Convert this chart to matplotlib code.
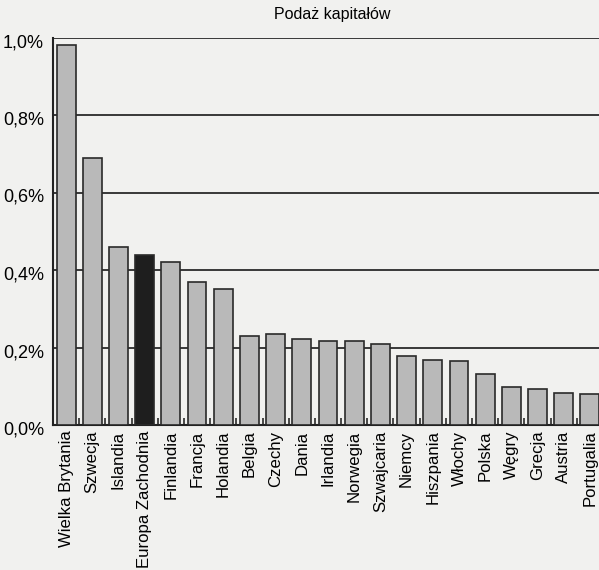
import matplotlib
matplotlib.use("Agg")
import matplotlib.pyplot as plt
import matplotlib.transforms as mtransforms
from matplotlib.ticker import FixedLocator

plt.rcParams['font.family'] = ['Liberation Sans', 'DejaVu Sans']

categories = ["Wielka Brytania", "Szwecja", "Islandia", "Europa Zachodnia", "Finlandia",
              "Francja", "Holandia", "Belgia", "Czechy", "Dania", "Irlandia", "Norwegia",
              "Szwajcaria", "Niemcy", "Hiszpania", "Włochy", "Polska", "Węgry", "Grecja",
              "Austria", "Portugalia"]
values = [0.98, 0.69, 0.46, 0.44, 0.42, 0.37, 0.35, 0.23, 0.235, 0.222, 0.218, 0.217,
          0.208, 0.177, 0.167, 0.165, 0.131, 0.097, 0.093, 0.083, 0.080]
highlight = "Europa Zachodnia"
yticks = [0.0, 0.2, 0.4, 0.6, 0.8, 1.0]
ytick_labels = ["0,0%", "0,2%", "0,4%", "0,6%", "0,8%", "1,0%"]
title = "Podaż kapitałów"

bg = "#f1f1ef"
fig = plt.figure(figsize=(5.99, 5.70), dpi=100, facecolor=bg)
ax = fig.add_axes([53/599, 1-425/570, 550/599, (425-37.5)/570])
ax.set_facecolor(bg)

x = list(range(len(categories)))
colors = ["#1e1e1e" if c == highlight else "#b9b9b9" for c in categories]
ax.bar(x, values, width=0.72, color=colors, edgecolor="#2a2a2a", linewidth=1.2, zorder=3)

ax.set_ylim(0, 1.0)
ax.set_xlim(-0.5, len(categories) - 0.5)
ax.set_yticks(yticks)
ax.set_yticklabels([])
ax.tick_params(axis="y", length=0)
ytrans = mtransforms.blended_transform_factory(ax.transAxes, ax.transData)
shift = mtransforms.ScaledTranslation(-0.09, -0.05, fig.dpi_scale_trans)
for yv, lab in zip(yticks, ytick_labels):
    ax.text(0, yv, lab, transform=ytrans + shift, ha="right", va="center", fontsize=13)
for yv in yticks[1:]:
    ax.axhline(yv, color="#2a2a2a", linewidth=1.3, zorder=1)

ax.set_xticks(x)
ax.set_xticklabels(categories, rotation=90, fontsize=12.1, va="top", ha="center")
ax.tick_params(axis="x", which="major", length=0, pad=4)
ax.xaxis.set_minor_locator(FixedLocator([i + 0.5 for i in x[:-1]]))
ax.tick_params(axis="x", which="minor", direction="in", length=5, width=1.2, color="#2a2a2a")

for s in ["top", "right"]:
    ax.spines[s].set_visible(False)
ax.spines["left"].set_linewidth(1.5)
ax.spines["bottom"].set_linewidth(1.5)
ax.spines["left"].set_color("#222")
ax.spines["bottom"].set_color("#222")

fig.text(332/599, 1-15/570, title, ha="center", va="center", fontsize=11.5)

fig.savefig("out.png", dpi=100, facecolor=bg)
